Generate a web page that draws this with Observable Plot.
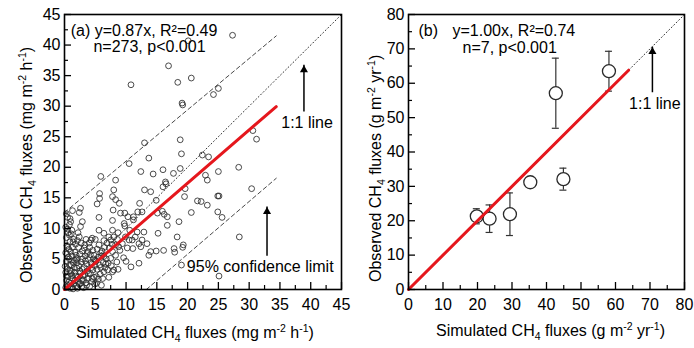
<!DOCTYPE html>
<html>
<head>
<meta charset="utf-8">
<script src="https://cdn.jsdelivr.net/npm/d3@7"></script>
<script src="https://cdn.jsdelivr.net/npm/@observablehq/plot@0.6"></script>
<style>
  html, body { margin: 0; padding: 0; background: #fff; }
  #wrap { display: flex; width: 694px; height: 348px; background: #fff; }
  svg { overflow: visible; }
  svg text { font-family: "Liberation Sans", Arial, sans-serif; }
</style>
</head>
<body>
<div id="wrap"><div id="pa"></div><div id="pb"></div></div>
<script>
// ---------------- Panel (a) data ----------------
const simA = [
27.3,20.1,16.9,10.8,18.4,20.6,24.2,25.0,19.1,19.2,18.8,13.0,13.7,10.5,5.9,8.3,12.4,14.4,16.0,19.0,
18.8,17.7,22.4,23.4,22.9,23.2,25.0,28.3,30.6,31.2,30.4,28.4,25.1,24.9,25.1,24.9,25.6,23.2,21.6,22.2,
20.6,19.5,19.6,18.3,17.8,17.9,19.3,19.2,19.0,18.6,16.7,15.9,16.2,16.4,16.5,16.0,14.9,14.0,13.0,12.2,
12.6,11.9,15.1,15.2,16.7,14.9,16.1,13.4,13.7,14.0,12.9,12.6,12.1,11.8,11.0,11.1,10.8,12.1,12.4,10.5,
10.3,11.2,11.2,9.8,9.1,9.8,9.7,8.7,8.0,7.2,7.5,8.3,7.8,8.3,8.0,8.7,7.8,7.9,7.8,7.8,
7.8,8.0,8.9,8.3,5.7,5.7,5.3,5.6,5.6,6.4,6.0,6.4,7.0,6.4,4.5,4.3,5.0,2.6,2.4,2.9,
2.6,2.4,1.3,1.0,1.2,1.1,
0.2,0.4,0.3,0.6,0.2,0.5,0.8,0.3,0.6,0.2,0.7,0.4,0.9,0.3,0.6,0.2,0.8,0.5,0.3,0.9,0.7,1.0,0.9,0.1,0.4,0.8,0.5,
1.2,1.5,1.3,1.8,1.1,1.6,1.4,1.9,1.2,1.7,1.3,1.8,1.5,1.9,1.6,1.1,1.4,1.9,1.7,1.2,
2.1,2.4,2.8,2.2,2.6,2.9,2.3,2.7,2.1,2.5,2.9,2.3,2.7,2.2,2.8,2.5,2.0,2.9,
3.1,3.5,3.8,3.3,3.7,3.2,3.6,3.9,3.4,3.8,3.2,3.6,3.9,3.4,3.1,3.7,
4.1,4.4,4.8,4.2,4.6,4.9,4.3,4.7,4.2,4.6,4.9,4.4,4.1,4.8,4.5,
5.2,5.5,5.8,5.3,5.7,5.1,5.5,5.9,5.3,5.6,5.9,5.2,
6.2,6.6,6.3,6.8,6.1,6.5,6.9,6.4,6.7,
7.1,7.5,7.3,7.7,7.2,7.6,
8.5,9.0,9.4,8.8,9.6,9.9,8.6,
10.2,10.6,11.5,10.0,
0.6,1.0,0.3,1.4,0.8,2.0,3.0,2.6,1.6,0.5,3.3,4.0,2.1,1.0,5.0,6.0,0.9,3.5,2.2
];
const obsA = [
41.6,40.7,36.6,33.5,33.9,34.6,31.9,32.9,30.5,30.2,24.5,24.0,21.5,20.6,18.5,17.9,19.3,18.9,19.6,22.2,
19.8,19.0,22.0,21.7,18.7,17.9,19.3,20.0,26.0,24.6,16.5,8.6,2.2,15.3,15.3,12.7,11.8,13.8,14.5,14.4,
12.6,15.2,16.5,8.6,6.7,6.1,7.3,6.9,4.0,11.1,11.9,12.8,12.3,17.6,17.3,16.8,14.6,16.0,16.3,14.1,
12.7,12.7,12.5,9.2,10.5,6.3,6.4,7.5,5.6,6.2,9.4,8.1,7.5,9.4,8.1,6.7,3.7,4.3,7.0,8.1,
11.9,11.4,11.9,12.5,12.5,10.4,10.8,9.3,8.6,8.6,8.1,7.3,6.2,5.6,3.2,3.3,2.9,13.0,11.3,9.7,
15.2,16.3,14.1,14.7,14.9,15.7,14.0,11.8,9.7,9.2,0.7,2.9,3.2,5.4,8.4,8.1,4.8,13.3,12.6,11.1,
10.3,8.6,12.9,11.1,9.7,9.1,
0.3,0.8,1.5,2.1,2.8,3.4,4.0,4.6,5.3,6.0,6.6,7.2,7.8,8.5,9.3,10.2,10.6,11.8,12.4,0.2,1.2,2.6,3.1,3.8,5.8,8.9,9.9,
0.4,1.0,1.8,2.2,3.0,3.6,4.4,4.9,5.5,6.1,6.9,7.4,8.2,0.6,2.8,4.0,7.8,5.6,1.5,2.3,
0.2,0.9,1.5,2.0,2.7,3.3,3.9,4.5,5.1,5.8,6.3,6.9,7.6,1.3,0.5,3.0,4.4,5.0,
0.3,1.1,1.8,2.4,3.0,3.6,4.2,4.9,5.5,6.2,6.8,0.7,2.6,4.7,1.6,5.9,
0.5,1.3,2.0,2.6,3.2,3.9,4.4,5.0,5.7,6.4,0.9,3.6,6.9,5.6,1.8,
1.0,1.7,2.5,3.3,4.0,4.6,5.3,6.0,6.6,7.3,3.6,2.1,
1.8,3.6,4.4,5.0,6.3,6.9,7.6,8.0,4.2,
4.3,5.1,6.8,7.4,2.0,3.9,
4.5,6.4,7.5,7.0,5.2,8.6,8.2,
6.8,9.7,8.6,4.6,
0.6,1.0,2.2,0.1,5.0,3.5,2.2,1.0,4.8,6.9,7.3,7.6,8.0,6.2,8.2,5.5,11.6,8.2,9.3
];
const slopeA = 0.87;          // y = 0.87x
const fitEndA = [0, 34.4];    // extent of fitted line (simulated)
const oneToOneA = [0, 45];
const ciUpX = [0, 34.4], ciUpY = [12.6, 41.5];
const ciLoX = [13.3, 34.4], ciLoY = [0, 18.2];
const ticksA = [0, 5, 10, 15, 20, 25, 30, 35, 40, 45];
const minorA = [2.5, 7.5, 12.5, 17.5, 22.5, 27.5, 32.5, 37.5, 42.5];
const arrowsA = [ {x: 38.9, base: 29.7, tip: 36.7}, {x: 32.9, base: 6.1, tip: 13.5} ];
const notesA = [
  {x: 1.0, y: 42.4, t: "(a) y=0.87x, R²=0.49", a: "start"},
  {x: 4.7, y: 39.7, t: "n=273, p<0.001", a: "start"},
  {x: 39.4, y: 27.2, t: "1:1 line", a: "middle"},
  {x: 31.8, y: 3.65, t: "95% confidence limit", a: "middle"}
];

// ---------------- Panel (b) data ----------------
const simB = [19.8, 23.5, 29.4, 35.3, 44.9, 42.7, 58.1];
const obsB = [21.3, 20.6, 21.9, 31.2, 32.1, 57.1, 63.5];
const errB = [2.2, 4.0, 6.2, 1.0, 3.2, 10.2, 5.8];
const slopeB = 1.00;
const fitEndB = [0, 63.8];
const oneToOneB = [0, 80];
const ticksB = [0, 10, 20, 30, 40, 50, 60, 70, 80];
const minorB = [5, 15, 25, 35, 45, 55, 65, 75];
const arrowsB = [ {x: 70.7, base: 58.4, tip: 70.5} ];
const notesB = [
  {x: 2.9, y: 75.1, t: "(b)", a: "start"},
  {x: 12.75, y: 75.1, t: "y=1.00x, R²=0.74", a: "start"},
  {x: 15.65, y: 70.2, t: "n=7, p<0.001", a: "start"},
  {x: 71.4, y: 54.0, t: "1:1 line", a: "middle"}
];

const RED = "#e5171d";
const FONT = "'Liberation Sans', Arial, sans-serif";

function frameMarks(ticks, minor, W, H) {
  return [
    Plot.tickX(minor, {x: d => d, insetTop: H - 4, stroke: "black", strokeWidth: 1.2}),
    Plot.tickX(ticks, {x: d => d, insetTop: H - 7, stroke: "black", strokeWidth: 1.3}),
    Plot.tickY(minor, {y: d => d, insetRight: W - 4, stroke: "black", strokeWidth: 1.2}),
    Plot.tickY(ticks, {y: d => d, insetRight: W - 7, stroke: "black", strokeWidth: 1.3}),
    Plot.axisX({ticks, tickSize: 0, tickPadding: 9, fontSize: 16, label: null, tickFormat: d => String(d)}),
    Plot.axisY({ticks, tickSize: 0, tickPadding: 4, fontSize: 16, label: null, tickFormat: d => String(d)}),
    Plot.frame({stroke: "black", strokeWidth: 1.6})
  ];
}
function arrowMarks(arrows) {
  return [
    Plot.ruleX(arrows, {x: "x", y1: "base", y2: "tip", insetTop: 4, stroke: "black", strokeWidth: 1.5}),
    Plot.dot(arrows, {x: "x", y: "tip", symbol: "triangle", r: 3, fill: "black", stroke: "none", dy: 4.6})
  ];
}
function noteMarks(notes) {
  return ["start", "middle"].map(a =>
    Plot.text(notes.filter(d => d.a === a), {x: "x", y: "y", text: "t", textAnchor: a, fontSize: 16, fill: "black"})
  );
}

// ---------------- Plot (a) ----------------
const dataA = simA.map((s, i) => ({sim: s, obs: obsA[i]}));
const WA = 347, HA = 348, mlA = 64, mrA = 6, mtA = 14, mbA = 59;
const plotA = Plot.plot({
  width: WA, height: HA,
  marginLeft: mlA, marginRight: mrA, marginTop: mtA, marginBottom: mbA,
  style: {fontFamily: FONT, fontSize: "16px", color: "black", background: "transparent", overflow: "visible"},
  x: {domain: [0, 45]},
  y: {domain: [0, 45]},
  marks: [
    Plot.line(oneToOneA, {x: d => d, y: d => d, stroke: "#333", strokeWidth: 1, strokeDasharray: "1,2.5"}),
    Plot.line(ciUpX, {x: d => d, y: (d, i) => ciUpY[i], stroke: "#333", strokeWidth: 0.9, strokeDasharray: "4,3"}),
    Plot.line(ciLoX, {x: d => d, y: (d, i) => ciLoY[i], stroke: "#333", strokeWidth: 0.9, strokeDasharray: "4,3"}),
    Plot.dot(dataA, {x: "sim", y: "obs", r: 2.9, stroke: "#2a2a2a", strokeWidth: 0.85, fill: "none"}),
    Plot.line(fitEndA, {x: d => d, y: d => slopeA * d, stroke: RED, strokeWidth: 3}),
    ...arrowMarks(arrowsA),
    ...noteMarks(notesA),
    ...frameMarks(ticksA, minorA, WA - mlA - mrA, HA - mtA - mbA)
  ]
});
document.getElementById("pa").appendChild(plotA);

// ---------------- Plot (b) ----------------
const dataB = simB.map((s, i) => ({sim: s, obs: obsB[i], lo: obsB[i] - errB[i], hi: obsB[i] + errB[i]}));
const WB = 347, HB = 348, mlB = 61, mrB = 10, mtB = 14, mbB = 59;
const plotB = Plot.plot({
  width: WB, height: HB,
  marginLeft: mlB, marginRight: mrB, marginTop: mtB, marginBottom: mbB,
  style: {fontFamily: FONT, fontSize: "16px", color: "black", background: "transparent", overflow: "visible"},
  x: {domain: [0, 80]},
  y: {domain: [0, 80]},
  marks: [
    Plot.line(oneToOneB, {x: d => d, y: d => d, stroke: "#333", strokeWidth: 1, strokeDasharray: "1,2.5"}),
    Plot.ruleX(dataB, {x: "sim", y1: "lo", y2: "hi", stroke: "#333", strokeWidth: 1.2}),
    Plot.ruleY(dataB, {y: "lo", x1: "sim", x2: "sim", insetLeft: -3.5, insetRight: -3.5, stroke: "#333", strokeWidth: 1.2}),
    Plot.ruleY(dataB, {y: "hi", x1: "sim", x2: "sim", insetLeft: -3.5, insetRight: -3.5, stroke: "#333", strokeWidth: 1.2}),
    Plot.dot(dataB, {x: "sim", y: "obs", r: 6.5, stroke: "#2a2a2a", strokeWidth: 1.3, fill: "white"}),
    Plot.line(fitEndB, {x: d => d, y: d => slopeB * d, stroke: RED, strokeWidth: 3}),
    ...arrowMarks(arrowsB),
    ...noteMarks(notesB),
    ...frameMarks(ticksB, minorB, WB - mlB - mrB, HB - mtB - mbB)
  ]
});
document.getElementById("pb").appendChild(plotB);

// ---------------- Axis titles with sub/superscripts ----------------
function richText(svg, parts, x, y, rotate) {
  const t = d3.select(svg).append("text")
    .attr("font-family", FONT).attr("font-size", 16).attr("fill", "black")
    .attr("text-anchor", "start");
  if (rotate) t.attr("transform", `translate(${x},${y}) rotate(-90)`);
  else t.attr("transform", `translate(${x},${y})`);
  let shift = 0;
  for (const [s, kind] of parts) {
    const target = kind === "sub" ? 4 : kind === "sup" ? -6 : 0;
    const ts = t.append("tspan").text(s).attr("dy", target - shift);
    if (kind) ts.attr("font-size", 10.5);
    shift = target;
  }
}
const xTitleA = [["Simulated CH"], ["4", "sub"], [" fluxes (mg m"], ["-2", "sup"], [" h"], ["-1", "sup"], [")"]];
const yTitleA = [["Observed CH"], ["4", "sub"], [" fluxes (mg m"], ["-2", "sup"], [" h"], ["-1", "sup"], [")"]];
const xTitleB = [["Simulated CH"], ["4", "sub"], [" fluxes (g m"], ["-2", "sup"], [" yr"], ["-1", "sup"], [")"]];
const yTitleB = [["Observed CH"], ["4", "sub"], [" fluxes (g m"], ["-2", "sup"], [" yr"], ["-1", "sup"], [")"]];
richText(plotA, xTitleA, 76, 338, false);
richText(plotA, yTitleA, 32, 283, true);
richText(plotB, xTitleB, 89, 336, false);
richText(plotB, yTitleB, 34, 282, true);
</script>
</body>
</html>
